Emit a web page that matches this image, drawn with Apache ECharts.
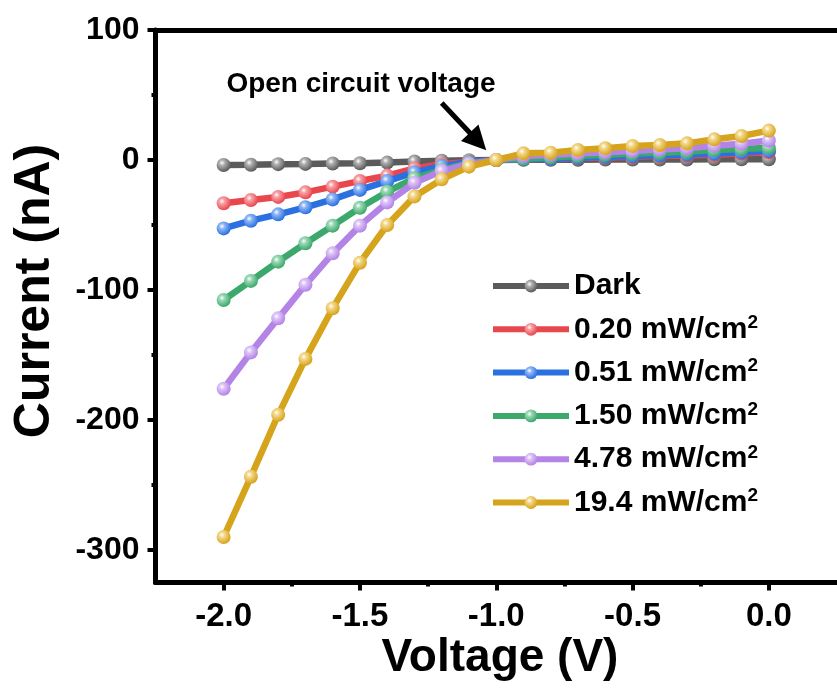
<!DOCTYPE html>
<html>
<head>
<meta charset="utf-8">
<script src="https://cdn.jsdelivr.net/npm/echarts@6/dist/echarts.min.js"></script>
<style>
html,body{margin:0;padding:0;background:#fff;}
#chart{width:837px;height:697px;}
</style>
</head>
<body>
<div id="chart"></div>
<script>
// ---- data ----
const voltage = [-2.0,-1.9,-1.8,-1.7,-1.6,-1.5,-1.4,-1.3,-1.2,-1.1,-1.0,-0.9,-0.8,-0.7,-0.6,-0.5,-0.4,-0.3,-0.2,-0.1,0.0];
const seriesNames = ['Dark','0.20 mW/cm²','0.51 mW/cm²','1.50 mW/cm²','4.78 mW/cm²','19.4 mW/cm²'];
const darkI   = [-3.8,-3.6,-3.2,-3.0,-2.7,-2.5,-2.0,-1.2,-0.5,-0.2,0,0.1,0.2,0.2,0.3,0.3,0.4,0.4,0.5,0.5,0.6];
const p020I   = [-33.3,-30.8,-28.4,-24.9,-20.5,-16.2,-12.0,-6.5,-3.0,-1.5,0,0.5,1,1.5,2,2.5,3,3.5,4,5,6];
const p051I   = [-52.6,-46.7,-41.8,-36.4,-30.3,-23.0,-16.2,-9.5,-4.5,-1.8,0,0.5,1,1.8,2.5,3,3.6,4.2,5,6,7];
const p150I   = [-107.7,-93,-78.2,-64,-50.5,-36.7,-24.4,-14,-7.5,-2.5,0,1,2,3,4,5,5.6,6.4,7.7,8.5,9.5];
const p478I   = [-176,-148,-121.8,-96,-71.8,-50.5,-32.6,-17.5,-8.5,-3,0,3,4,5,6,7,8,9,11,12.5,15];
const p194I   = [-290,-243.6,-196,-153,-114,-79,-50,-28,-14.9,-5.1,0,5.1,5.6,7.7,9,10.8,11.5,12.8,15.9,18.5,22.6];
const currents = [darkI, p020I, p051I, p150I, p478I, p194I];
const xTicks = [-2.0,-1.5,-1.0,-0.5,0.0];
const xMinorTicks = [-1.75,-1.25,-0.75,-0.25];
const yTicks = [100,0,-100,-200,-300];
const yMinorTicks = [50,-50,-150,-250];
const arrowStart = [-1.2, 43.8];
const arrowEnd = [-1.067, 14.3];

// ---- styles ----
const colors = ['#5b5b5b','#e8474e','#2a70e0','#3ca86c','#b383e6','#d6a31c'];
const lights = ['#b0b0b0','#f7a0a4','#8fb6f5','#9ad8b4','#dcc4f7','#f3d88a'];
const FONT = "'Liberation Sans', Arial, Helvetica, sans-serif";

const chart = echarts.init(document.getElementById('chart'), null, {renderer:'canvas'});

const series = currents.map((arr, i) => ({
  name: seriesNames[i],
  type: 'line',
  xAxisIndex: 0,
  yAxisIndex: 0,
  data: voltage.map((v, k) => [v, arr[k]]),
  symbol: 'circle',
  symbolSize: 14,
  showSymbol: true,
  lineStyle: {color: colors[i], width: 6.5},
  itemStyle: {
    color: new echarts.graphic.RadialGradient(0.38, 0.35, 0.65, [
      {offset: 0, color: '#ffffff'},
      {offset: 0.3, color: lights[i]},
      {offset: 1, color: colors[i]}
    ]),
    borderWidth: 0
  },
  z: 2 + i,
  animation: false
}));

series.push({
  type: 'line',
  name: '__arrow',
  data: [],
  xAxisIndex: 0,
  yAxisIndex: 0,
  silent: true,
  animation: false,
  markLine: {
    silent: true,
    animation: false,
    symbol: ['none', 'triangle'],
    symbolSize: 24,
    label: {show: false},
    lineStyle: {color: '#000', width: 5, type: 'solid'},
    data: [[{coord: arrowStart}, {coord: arrowEnd}]]
  }
});

const axisLineStyle = {color: '#000', width: 5};

const option = {
  backgroundColor: '#fff',
  animation: false,
  grid: {left: 155.5, top: 30, width: 685, height: 552.5, containLabel: false},
  xAxis: [
    {
      type: 'value', min: -2.25, max: 0.25, position: 'bottom',
      axisLine: {show: true, onZero: false, lineStyle: axisLineStyle},
      axisTick: {show: true, inside: false, length: 8, customValues: xTicks, lineStyle: {color:'#000', width: 4}},
      axisLabel: {show: true, customValues: xTicks, margin: 18, color: '#000',
        fontSize: 33, fontWeight: 'bold', fontFamily: FONT,
        formatter: v => v.toFixed(1)},
      splitLine: {show: false}
    },
    {
      type: 'value', min: -2.25, max: 0.25, position: 'top',
      axisLine: {show: true, onZero: false, lineStyle: axisLineStyle},
      axisTick: {show: false}, axisLabel: {show: false}, splitLine: {show: false}
    },
    {
      type: 'value', min: -2.25, max: 0.25, position: 'bottom',
      axisLine: {show: false, onZero: false},
      axisTick: {show: true, inside: false, length: 4, customValues: xMinorTicks, lineStyle: {color:'#000', width: 4}},
      axisLabel: {show: false}, splitLine: {show: false}
    }
  ],
  yAxis: [
    {
      type: 'value', min: -325, max: 100, position: 'left',
      axisLine: {show: true, onZero: false, lineStyle: axisLineStyle},
      axisTick: {show: true, inside: false, length: 8, customValues: yTicks, lineStyle: {color:'#000', width: 4}},
      axisLabel: {show: true, customValues: yTicks, margin: 16, color: '#000',
        fontSize: 32, fontWeight: 'bold', fontFamily: FONT,
        formatter: v => String(Math.round(v))},
      splitLine: {show: false}
    },
    {
      type: 'value', min: -325, max: 100, position: 'left',
      axisLine: {show: false, onZero: false},
      axisTick: {show: true, inside: false, length: 4, customValues: yMinorTicks, lineStyle: {color:'#000', width: 4}},
      axisLabel: {show: false}, splitLine: {show: false}
    }
  ],
  legend: {
    data: seriesNames,
    orient: 'vertical',
    left: 490,
    top: 271,
    padding: 0,
    itemGap: 12.3,
    itemWidth: 76,
    itemHeight: 16,
    selectedMode: false,
    lineStyle: {width: 6},
    formatter: function (name) {
      if (name.endsWith('²')) {
        return '{a|' + name.slice(0, -1) + '}{s|2}';
      }
      return '{a|' + name + '}';
    },
    textStyle: {
      color: '#000',
      rich: {
        a: {fontSize: 30, fontWeight: 'bold', fontFamily: FONT, color: '#000', lineHeight: 32},
        s: {fontSize: 19, fontWeight: 'bold', fontFamily: FONT, color: '#000', lineHeight: 14, verticalAlign: 'top'}
      }
    }
  },
  graphic: [
    {type: 'text', x: 35, y: 291, rotation: Math.PI / 2, silent: true,
      style: {text: 'Current (nA)', align: 'center', verticalAlign: 'middle',
        font: 'bold 50px ' + FONT, fill: '#000'}},
    {type: 'text', x: 500, y: 658, silent: true,
      style: {text: 'Voltage (V)', align: 'center', verticalAlign: 'middle',
        font: 'bold 46px ' + FONT, fill: '#000'}},
    {type: 'text', x: 361, y: 84, silent: true,
      style: {text: 'Open circuit voltage', align: 'center', verticalAlign: 'middle',
        font: 'bold 28px ' + FONT, fill: '#000'}}
  ],
  series: series
};

chart.setOption(option);
</script>
</body>
</html>
